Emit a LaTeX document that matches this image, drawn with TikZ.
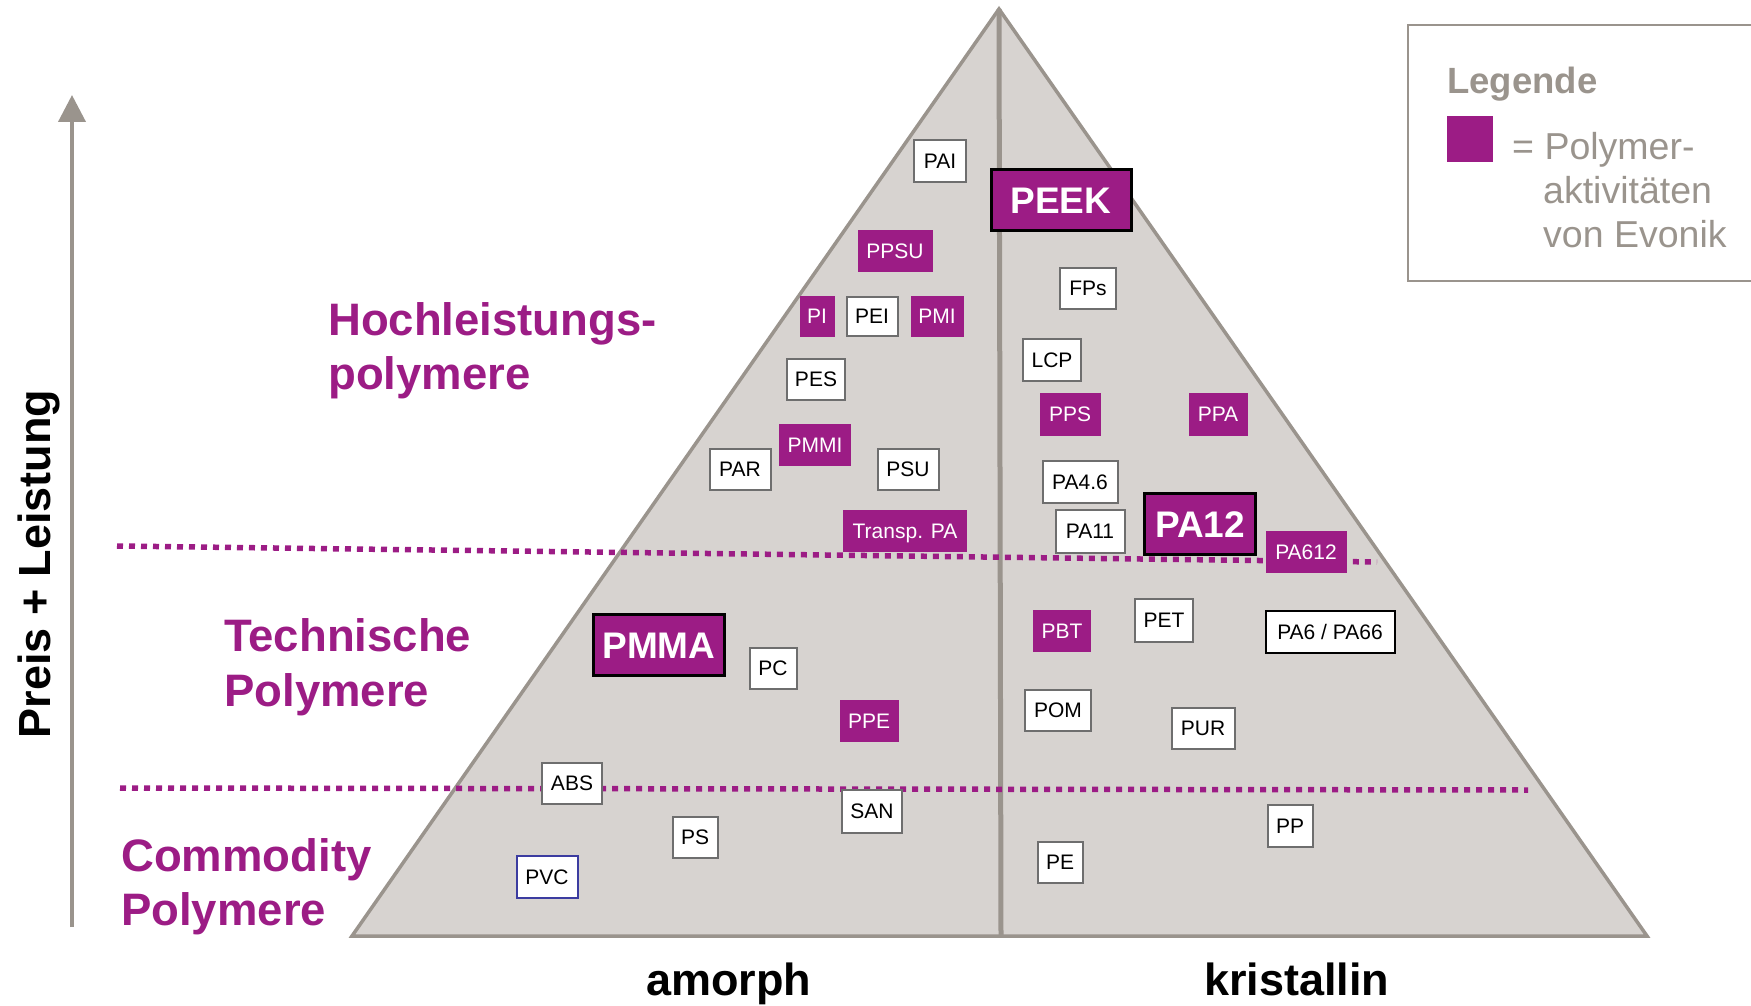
\documentclass[tikz,border=0pt]{standalone}
\usepackage{fontspec}
\setmainfont{Liberation Sans}
\usetikzlibrary{arrows.meta}
\definecolor{evpurple}{HTML}{9C1C85}
\definecolor{trifill}{HTML}{D7D3D0}
\definecolor{edgegray}{HTML}{9A948D}
\definecolor{boxgray}{HTML}{6E6E6E}
\definecolor{pvcblue}{HTML}{3C3CA0}
\begin{document}
\begin{tikzpicture}[x=1pt,y=-1pt,
  sz/.style 2 args={minimum width=#1pt,minimum height=#2pt},
  boxbase/.style={inner sep=0pt,text height=15pt,text depth=0pt,align=center,
    font=\fontsize{21}{21}\selectfont},
  wbox/.style={boxbase,fill=white,draw=boxgray,line width=2pt,text=black},
  pbox/.style={boxbase,fill=evpurple,text=white},
  bigbox/.style={inner sep=0pt,text height=26.5pt,text depth=0pt,fill=evpurple,draw=black,
    line width=3pt,text=white,font=\fontsize{37}{37}\selectfont\bfseries},
  edge/.style={draw=edgegray,line width=3.5pt},
  dotline/.style={draw=evpurple,line width=5.5pt,dash pattern=on 6pt off 6pt},
  cat/.style={anchor=base west,text=evpurple,inner sep=0pt,
    font=\fontsize{45.5}{45.5}\selectfont\bfseries},
  axis/.style={anchor=base,inner sep=0pt,text=black,font=\fontsize{45}{45}\selectfont\bfseries},
  leg/.style={anchor=base west,inner sep=0pt,text=edgegray,font=\fontsize{37.5}{37.5}\selectfont}
]
\useasboundingbox (0,0) rectangle (1751,1006);

% triangle
\fill[trifill] (999,9) -- (1647,936) -- (352,936) -- cycle;
\draw[edge,line join=miter] (999,9) -- (1647,936) -- (352,936) -- cycle;
\draw[edge,line width=5pt] (999,9) -- (1001,936);

% arrow
\coordinate (ab) at (72,927);
\coordinate (at) at (72,95);
\draw[draw=edgegray,line width=4pt,-{Triangle[width=27pt,length=27pt]}] (ab) -- (at);
\node[axis,rotate=90] (preis) at (50,564) {Preis + Leistung};

% dotted lines
\coordinate (d1a) at (117,546);
\coordinate (d1b) at (1377,562);
\coordinate (d2a) at (120,788);
\coordinate (d2b) at (1528,790);
\draw[dotline] (d1a) -- (d1b);
\draw[dotline] (d2a) -- (d2b);

% category labels
\node[cat] (h1) at (328,335) {Hochleistungs-};
\node[cat] (h2) at (328,389) {polymere};
\node[cat] (t1) at (224,651) {Technische};
\node[cat] (t2) at (224,706) {Polymere};
\node[cat] (c1) at (121,871) {Commodity};
\node[cat] (c2) at (121,925) {Polymere};
\node[axis,anchor=base west] (amorph) at (646,995) {amorph};
\node[axis,anchor=base west] (krist) at (1204,995) {kristallin};

% boxes amorph
\node[wbox,sz={52}{42}] (pai) at (940,161) {PAI};
\node[pbox,sz={75}{42}] (ppsu) at (895,251) {PPSU};
\node[pbox,sz={35}{41}] (pi) at (817,316) {PI};
\node[wbox,sz={51}{39}] (pei) at (872,316) {PEI};
\node[pbox,sz={53}{41}] (pmi) at (937,316) {PMI};
\node[wbox,sz={58}{41}] (pes) at (816,379) {PES};
\node[pbox,sz={72}{42}] (pmmi) at (815,445) {PMMI};
\node[wbox,sz={61}{41}] (par) at (740,469) {PAR};
\node[wbox,sz={61}{41}] (psu) at (908,469) {PSU};
\node[pbox,sz={124}{42}] (tpa) at (905,531) {Transp. PA};
\node[bigbox,sz={131}{61}] (pmma) at (659,645) {PMMA};
\node[wbox,sz={47}{41}] (pc) at (773,668) {PC};
\node[pbox,sz={59}{42}] (ppe) at (869,721) {PPE};
\node[wbox,sz={60}{41}] (abs) at (572,783) {ABS};
\node[wbox,sz={60}{43}] (san) at (872,811) {SAN};
\node[wbox,sz={45}{41}] (ps) at (695,837) {PS};
\node[wbox,draw=pvcblue,sz={61}{42}] (pvc) at (547,877) {PVC};

% boxes kristallin
\node[bigbox,sz={140}{61}] (peek) at (1061,200) {PEEK};
\node[wbox,sz={56}{41}] (fps) at (1088,288) {FPs};
\node[wbox,sz={58}{42}] (lcp) at (1052,360) {LCP};
\node[pbox,sz={61}{43}] (pps) at (1070,414) {PPS};
\node[pbox,sz={59}{43}] (ppa) at (1218,414) {PPA};
\node[wbox,sz={75}{42}] (pa46) at (1080,482) {PA4.6};
\node[wbox,sz={69}{43}] (pa11) at (1090,531) {PA11};
\node[bigbox,sz={111}{61}] (pa12) at (1200,524) {PA12};
\node[pbox,sz={81}{42}] (pa612) at (1306,552) {PA612};
\node[pbox,sz={58}{42}] (pbt) at (1062,631) {PBT};
\node[wbox,sz={58}{43}] (pet) at (1164,620) {PET};
\node[wbox,draw=black,sz={129}{42}] (pa6) at (1330,632) {PA6 / PA66};
\node[wbox,sz={66}{41}] (pom) at (1058,710) {POM};
\node[wbox,sz={63}{41}] (pur) at (1203,728) {PUR};
\node[wbox,sz={45}{41}] (pe) at (1060,862) {PE};
\node[wbox,sz={45}{42}] (pp) at (1290,826) {PP};

% legend
\draw[draw=edgegray,line width=2.7pt] (1800,281) -- (1408,281) -- (1408,25) -- (1800,25);
\node[leg,font=\fontsize{36.5}{36.5}\selectfont\bfseries] (legt) at (1447,94) {Legende};
\node[fill=evpurple,minimum width=46pt,minimum height=46pt,inner sep=0pt] (legsq) at (1470,139) {};
\node[leg] (l1) at (1512,160) {= Polymer-};
\node[leg] (l2) at (1543,204) {aktivitäten};
\node[leg] (l3) at (1543,247) {von Evonik};
\end{tikzpicture}
\end{document}
